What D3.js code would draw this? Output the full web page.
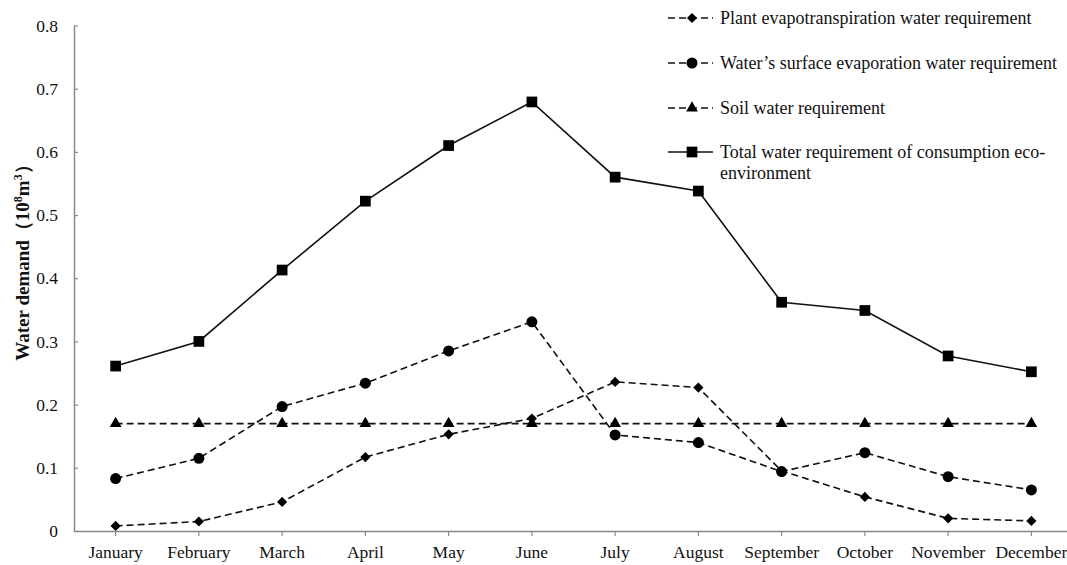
<!DOCTYPE html>
<html>
<head>
<meta charset="utf-8">
<script src="https://cdn.jsdelivr.net/npm/d3@7"></script>
<style>
  html, body { margin: 0; padding: 0; background: #fff; }
  svg { display: block; }
</style>
</head>
<body>
<div id="chart"></div>
<script>
// Monthly eco-environment water demand, four series.

const months = ["January", "February", "March", "April", "May", "June",
  "July", "August", "September", "October", "November", "December"];

const plantValues = [0.008, 0.015, 0.046, 0.117, 0.153, 0.178, 0.236, 0.227, 0.095, 0.054, 0.020, 0.016];
const surfaceValues = [0.083, 0.115, 0.197, 0.234, 0.285, 0.331, 0.152, 0.140, 0.094, 0.124, 0.086, 0.065];
const soilValues = [0.17, 0.17, 0.17, 0.17, 0.17, 0.17, 0.17, 0.17, 0.17, 0.17, 0.17, 0.17];
const totalValues = [0.261, 0.300, 0.413, 0.522, 0.610, 0.679, 0.560, 0.538, 0.362, 0.349, 0.277, 0.252];

const yTicks = [0, 0.1, 0.2, 0.3, 0.4, 0.5, 0.6, 0.7, 0.8];

const seriesNames = [
  "Plant evapotranspiration water requirement",
  "Water\u2019s surface evaporation water requirement",
  "Soil water requirement",
  "Total water requirement of consumption eco-environment",
];

const W = 1067, H = 565;
const FONT = "'Liberation Serif', 'Times New Roman', serif";
const INK = "#111";
const AXIS = "#8a8a8a";

// diamond = square turned 45deg, closer to the reference glyph than d3's tall diamond
const series = [
  { name: seriesNames[0], values: plantValues,   symbol: d3.symbolSquare,   size: 52,  rot: 45, dash: "7,4" },
  { name: seriesNames[1], values: surfaceValues, symbol: d3.symbolCircle,   size: 95,  rot: 0,  dash: "7,4" },
  { name: seriesNames[2], values: soilValues,    symbol: d3.symbolTriangle, size: 60,  rot: 0,  dash: "7,4" },
  { name: seriesNames[3], values: totalValues,   symbol: d3.symbolSquare,   size: 115, rot: 0,  dash: null },
];

const svg = d3.select("#chart").append("svg")
  .attr("width", W)
  .attr("height", H);

const x = d3.scaleBand()
  .domain(months)
  .range([74, 1073]);

const y = d3.scaleLinear()
  .domain([0, 0.8])
  .range([531, 25.5]);

const cx = m => x(m) + x.bandwidth() / 2;

// axes
const xAxisG = svg.append("g")
  .attr("transform", `translate(0,${y(0)})`)
  .call(d3.axisBottom(x).tickSize(5).tickSizeOuter(0).tickPadding(10));

xAxisG.select(".domain").attr("stroke", AXIS).attr("stroke-width", 1.5);
xAxisG.selectAll(".tick line").attr("stroke", AXIS).attr("stroke-width", 1.2);
xAxisG.selectAll("text")
  .attr("fill", INK)
  .attr("font-size", "17.5px")
  .attr("font-family", FONT);

const yAxisG = svg.append("g")
  .attr("transform", `translate(74,0)`)
  .call(d3.axisRight(y).tickValues(yTicks).tickSize(4).tickSizeOuter(0)
    .tickFormat(d => d === 0 ? "0" : d3.format(".1f")(d)));

yAxisG.select(".domain").attr("stroke", AXIS).attr("stroke-width", 1.5);
yAxisG.selectAll(".tick line").attr("stroke", AXIS).attr("stroke-width", 1.2);
yAxisG.selectAll("text")
  .attr("x", -16)
  .attr("text-anchor", "end")
  .attr("fill", INK)
  .attr("font-size", "17.5px")
  .attr("font-family", FONT);

// axis title
const yTitle = svg.append("text")
  .attr("transform", `translate(29,258) rotate(-90)`)
  .attr("text-anchor", "middle")
  .attr("fill", INK)
  .attr("font-size", "19px")
  .attr("font-weight", "bold")
  .attr("font-family", FONT);
yTitle.append("tspan").text("Water demand\uFF0810");
yTitle.append("tspan").attr("baseline-shift", "super").attr("font-size", "12px").text("8");
yTitle.append("tspan").text("m");
yTitle.append("tspan").attr("baseline-shift", "super").attr("font-size", "12px").text("3");
yTitle.append("tspan").text("\uFF09");

// lines + markers
const lineFn = d3.line()
  .x((d, i) => cx(months[i]))
  .y(d => y(d));

series.forEach(s => {
  svg.append("path")
    .datum(s.values)
    .attr("d", lineFn)
    .attr("fill", "none")
    .attr("stroke", INK)
    .attr("stroke-width", 1.6)
    .attr("stroke-dasharray", s.dash);

  svg.selectAll(null)
    .data(s.values)
    .join("path")
      .attr("transform", (d, i) => `translate(${cx(months[i])},${y(d)}) rotate(${s.rot})`)
      .attr("d", d3.symbol(s.symbol, s.size))
      .attr("fill", "#000");
});

// legend
const legendRows = [18, 63, 108, 152];
const legend = svg.append("g");

series.forEach((s, i) => {
  const ly = legendRows[i];
  legend.append("line")
    .attr("x1", 668).attr("x2", 713)
    .attr("y1", ly).attr("y2", ly)
    .attr("stroke", INK)
    .attr("stroke-width", 1.6)
    .attr("stroke-dasharray", s.dash);

  legend.append("path")
    .attr("transform", `translate(692,${ly}) rotate(${s.rot})`)
    .attr("d", d3.symbol(s.symbol, s.size))
    .attr("fill", "#000");

  const t = legend.append("text")
    .attr("x", 720)
    .attr("y", ly)
    .attr("dy", "0.35em")
    .attr("fill", INK)
    .attr("font-size", "18px")
    .attr("font-family", FONT);

  if (i === 3) {
    t.append("tspan").text("Total water requirement of consumption eco-");
    t.append("tspan").attr("x", 720).attr("dy", "1.15em").text("environment");
  } else {
    t.text(s.name);
  }
});
</script>
</body>
</html>
